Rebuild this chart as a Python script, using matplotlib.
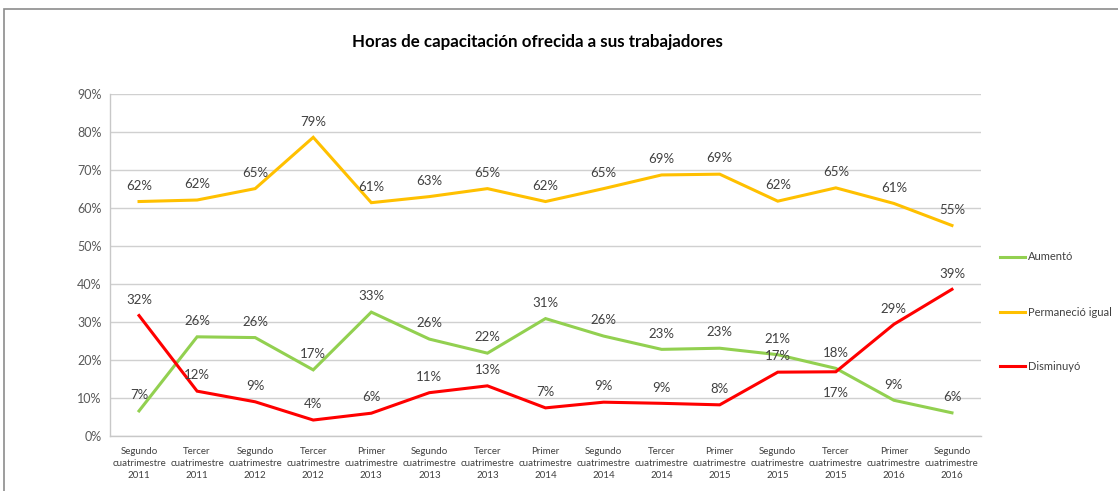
import matplotlib
matplotlib.use("Agg")
import matplotlib.pyplot as plt
from matplotlib.lines import Line2D
from matplotlib.patches import Rectangle

categories = [
    "Segundo\ncuatrimestre\n2011", "Tercer\ncuatrimestre\n2011",
    "Segundo\ncuatrimestre\n2012", "Tercer\ncuatrimestre\n2012",
    "Primer\ncuatrimestre\n2013", "Segundo\ncuatrimestre\n2013",
    "Tercer\ncuatrimestre\n2013", "Primer\ncuatrimestre\n2014",
    "Segundo\ncuatrimestre\n2014", "Tercer\ncuatrimestre\n2014",
    "Primer\ncuatrimestre\n2015", "Segundo\ncuatrimestre\n2015",
    "Tercer\ncuatrimestre\n2015", "Primer\ncuatrimestre\n2016",
    "Segundo\ncuatrimestre\n2016",
]
aumento = [6.6, 26.1, 25.9, 17.4, 32.6, 25.5, 21.8, 30.9, 26.3, 22.8, 23.1, 21.4, 17.8, 9.4, 6.1]
permanecio = [61.7, 62.1, 65.1, 78.6, 61.4, 63.0, 65.1, 61.7, 65.1, 68.7, 68.9, 61.8, 65.3, 61.2, 55.4]
disminuyo = [31.7, 11.8, 9.0, 4.2, 6.0, 11.4, 13.2, 7.4, 8.9, 8.6, 8.2, 16.8, 16.9, 29.4, 38.6]
yticks = [0, 10, 20, 30, 40, 50, 60, 70, 80, 90]

series = [
    ("Aumentó", aumento, "#92D050"),
    ("Permaneció igual", permanecio, "#FFC000"),
    ("Disminuyó", disminuyo, "#FF0000"),
]
# labels placed below the point (series index, point index)
below = {(2, 12)}

plt.rcParams['font.family'] = ['Lato', 'DejaVu Sans']

fig = plt.figure(figsize=(11.18, 4.91), dpi=100)
fig.patches.append(Rectangle((4 / 1118, -0.1), 1.2, (491 - 9) / 491 + 0.1,
                             transform=fig.transFigure, fill=False,
                             edgecolor="#8c8c8c", linewidth=1.2))
ax = fig.add_axes([110 / 1118, (491 - 436) / 491, (981 - 110) / 1118, (436 - 94) / 491])

x = list(range(len(categories)))
for si, (name, vals, col) in enumerate(series):
    ax.plot(x, vals, color=col, linewidth=2.2, solid_joinstyle="miter")
    for i, v in enumerate(vals):
        if (si, i) in below:
            ax.annotate(f"{round(v):.0f}%", (i, v), xytext=(0, -11), textcoords="offset points",
                        ha="center", va="top", fontsize=9.5, color="#404040")
        else:
            ax.annotate(f"{round(v):.0f}%", (i, v), xytext=(0, 7), textcoords="offset points",
                        ha="center", va="bottom", fontsize=9.5, color="#404040")

ax.set_xlim(-0.5, len(categories) - 0.5)
ax.set_ylim(0, 90)
ax.set_yticks(yticks)
ax.set_yticklabels([f"{t}%" for t in yticks], fontsize=9, color="#595959")
ax.set_xticks(x)
ax.set_xticklabels(categories, fontsize=7, color="#404040", linespacing=1.45)
ax.tick_params(axis="both", length=0, pad=6)
ax.tick_params(axis="x", pad=8)
ax.grid(axis="y", color="#d0d0d0", linewidth=1)
ax.set_axisbelow(True)
for s in ["top", "right"]:
    ax.spines[s].set_visible(False)
for s in ["left", "bottom"]:
    ax.spines[s].set_color("#c8c8c8")
    ax.spines[s].set_linewidth(1)

fig.text(537 / 1118, 1 - 42 / 491, "Horas de capacitación ofrecida a sus trabajadores",
         ha="center", va="center", fontsize=12.2, fontweight="bold", color="#000000")

legend_y = [257, 312, 366]
for (name, vals, col), ly in zip(series, legend_y):
    yf = 1 - ly / 491
    fig.add_artist(Line2D([1000 / 1118, 1025 / 1118], [yf, yf], color=col, linewidth=2.2,
                          transform=fig.transFigure))
    fig.text(1028 / 1118, yf, name, ha="left", va="center", fontsize=8, color="#404040")

fig.savefig("out.png", dpi=100)
